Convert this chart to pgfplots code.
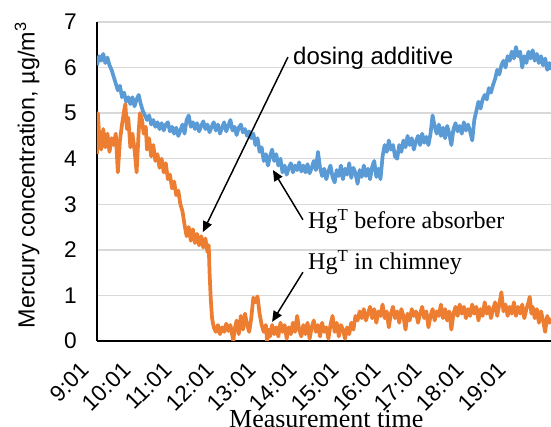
\documentclass[border=0pt]{standalone}
\usepackage{fontspec}
\setmainfont{Liberation Serif}
\setsansfont{Liberation Sans}
\usepackage{pgfplots}
\pgfplotsset{compat=1.18}
\usetikzlibrary{arrows.meta}

\definecolor{hgblue}{RGB}{91,155,213}
\definecolor{hgorange}{RGB}{237,125,49}
\definecolor{gridgray}{RGB}{217,217,217}

\begin{document}
\begin{tikzpicture}
  \begin{axis}[
      scale only axis,
      width=340.5pt, height=239.25pt,
      xmin=0, xmax=10.89,
      ymin=0, ymax=7,
      axis x line*=bottom,
      axis y line*=left,
      axis line style={-, line width=1.5pt, black},
      major tick length=0pt,
      xtick={0,1,2,3,4,5,6,7,8,9,10},
      xticklabels={9:01,10:01,11:01,12:01,13:01,14:01,15:01,16:01,17:01,18:01,19:01},
      ytick={0,1,2,3,4,5,6,7},
      ymajorgrids=true,
      grid style={gridgray, line width=1.1pt},
      ticklabel style={font=\sffamily\fontsize{17}{20}\selectfont},
      /pgf/number format/assume math mode=true,
      yticklabel style={inner sep=0pt, xshift=-15pt},
      xticklabel style={inner sep=0pt, xshift=-9pt, yshift=-19pt, rotate=45, anchor=east},
      xlabel={Measurement time},
      xlabel style={font=\rmfamily\fontsize{19.5}{22}\selectfont, at={(axis description cs:0.505,-0.270)}, anchor=base},
      ylabel={Mercury concentration, µg/m\textsuperscript{3}},
      ylabel style={font=\sffamily\fontsize{17.5}{20}\selectfont, at={(axis description cs:-0.154,0.52)}, anchor=center},
  ]

  % HgT before absorber
  \addplot[color=hgblue, line width=2.8pt, line join=round, no markers]
    coordinates {
      (0.00,6.05) (0.05,6.25) (0.10,6.15) (0.15,6.30) (0.20,6.10) (0.25,6.22)
      (0.30,6.05) (0.35,5.95) (0.40,5.80) (0.45,5.65) (0.50,5.50) (0.55,5.60)
      (0.60,5.35) (0.65,5.45) (0.70,5.25) (0.75,5.35) (0.80,5.20) (0.85,5.35)
      (0.90,5.15) (0.95,5.30) (1.00,5.40) (1.05,5.20) (1.10,5.05) (1.15,4.95)
      (1.20,4.85) (1.25,4.95) (1.30,4.75) (1.35,4.85) (1.40,4.70) (1.45,4.80)
      (1.50,4.65) (1.55,4.78) (1.60,4.62) (1.65,4.75) (1.70,4.80) (1.75,4.60)
      (1.80,4.70) (1.85,4.55) (1.90,4.68) (1.95,4.50) (2.00,4.62) (2.05,4.75)
      (2.10,4.55) (2.15,4.85) (2.20,4.95) (2.25,4.70) (2.30,4.80) (2.35,4.65)
      (2.40,4.78) (2.45,4.60) (2.50,4.72) (2.55,4.82) (2.60,4.65) (2.65,4.75)
      (2.70,4.58) (2.75,4.70) (2.80,4.80) (2.85,4.62) (2.90,4.75) (2.95,4.55)
      (3.00,4.68) (3.05,4.80) (3.10,4.60) (3.15,4.72) (3.20,4.85) (3.25,4.62)
      (3.30,4.70) (3.35,4.52) (3.40,4.68) (3.45,4.75) (3.50,4.58) (3.55,4.65)
      (3.60,4.50) (3.65,4.60) (3.70,4.45) (3.75,4.55) (3.80,4.30) (3.85,4.45)
      (3.90,4.15) (3.95,4.25) (4.00,3.95) (4.05,4.10) (4.10,3.85) (4.15,4.05)
      (4.20,4.20) (4.25,3.95) (4.30,4.10) (4.35,3.85) (4.40,4.00) (4.45,3.70)
      (4.50,3.85) (4.55,3.65) (4.60,3.80) (4.65,3.90) (4.70,3.70) (4.75,3.85)
      (4.80,3.75) (4.85,3.92) (4.90,3.72) (4.95,3.85) (5.00,3.70) (5.05,3.88)
      (5.10,3.68) (5.15,3.80) (5.20,3.95) (5.25,3.75) (5.30,4.15) (5.35,3.80)
      (5.40,3.62) (5.45,3.78) (5.50,3.55) (5.55,3.72) (5.60,3.85) (5.65,3.60)
      (5.70,3.48) (5.75,3.75) (5.80,3.62) (5.85,3.85) (5.90,3.55) (5.95,3.78)
      (6.00,3.65) (6.05,3.90) (6.10,3.58) (6.15,3.80) (6.20,3.68) (6.25,3.45)
      (6.30,3.75) (6.35,3.60) (6.40,3.85) (6.45,3.62) (6.50,3.78) (6.55,3.55)
      (6.60,3.82) (6.65,3.95) (6.70,3.60) (6.75,3.78) (6.80,3.55) (6.85,4.05)
      (6.90,4.30) (6.95,4.15) (7.00,4.40) (7.05,4.20) (7.10,4.30) (7.15,4.05)
      (7.20,4.00) (7.25,4.30) (7.30,4.15) (7.35,4.40) (7.40,4.25) (7.45,4.50)
      (7.50,4.30) (7.55,4.45) (7.60,4.20) (7.65,4.38) (7.70,4.50) (7.75,4.30)
      (7.80,4.55) (7.85,4.35) (7.90,4.48) (7.95,4.30) (8.00,4.55) (8.05,4.95)
      (8.10,4.70) (8.15,4.55) (8.20,4.75) (8.25,4.50) (8.30,4.68) (8.35,4.45)
      (8.40,4.72) (8.45,4.55) (8.50,4.30) (8.55,4.65) (8.60,4.78) (8.65,4.60)
      (8.70,4.72) (8.75,4.55) (8.80,4.80) (8.85,4.62) (8.90,4.75) (8.95,4.60)
      (9.00,4.40) (9.05,4.85) (9.10,5.05) (9.15,5.25) (9.20,5.10) (9.25,5.30)
      (9.30,5.40) (9.35,5.30) (9.40,5.55) (9.45,5.45) (9.50,5.62) (9.55,5.75)
      (9.60,5.95) (9.65,5.85) (9.70,6.05) (9.75,6.15) (9.80,6.00) (9.85,6.25)
      (9.90,6.15) (9.95,6.35) (10.00,6.20) (10.05,6.45) (10.10,6.25) (10.15,6.35)
      (10.20,6.00) (10.25,6.25) (10.30,6.10) (10.35,6.35) (10.40,6.20) (10.45,6.38)
      (10.50,6.15) (10.55,6.30) (10.60,6.10) (10.65,6.25) (10.70,6.05) (10.75,6.20)
      (10.80,5.95) (10.85,6.10) (10.90,5.95)
    };

  % HgT in chimney
  \addplot[color=hgorange, line width=2.8pt, line join=round, no markers]
    coordinates {
      (0.00,4.10) (0.02,5.00) (0.05,4.55) (0.10,4.20) (0.15,4.65) (0.20,4.25)
      (0.25,4.55) (0.30,4.15) (0.35,4.45) (0.40,4.30) (0.45,4.55) (0.50,3.70)
      (0.55,4.40) (0.60,4.75) (0.65,5.05) (0.68,5.20) (0.72,4.65) (0.75,4.90)
      (0.80,4.25) (0.85,4.55) (0.90,4.20) (0.95,3.70) (1.00,4.60) (1.03,5.00)
      (1.08,4.85) (1.12,4.55) (1.17,4.70) (1.20,4.20) (1.25,4.45) (1.30,4.05)
      (1.35,4.30) (1.40,3.95) (1.45,4.10) (1.50,3.80) (1.55,4.00) (1.60,3.70)
      (1.65,3.90) (1.70,3.55) (1.75,3.65) (1.80,3.35) (1.85,3.50) (1.90,3.20)
      (1.95,3.30) (2.00,3.00) (2.05,2.85) (2.10,2.55) (2.15,2.30) (2.20,2.50)
      (2.25,2.20) (2.30,2.45) (2.35,2.15) (2.40,2.35) (2.45,2.10) (2.50,2.30)
      (2.55,2.05) (2.60,2.25) (2.65,1.95) (2.68,2.10) (2.70,1.50) (2.73,0.90)
      (2.76,0.50) (2.80,0.30) (2.85,0.20) (2.90,0.35) (2.95,0.15) (3.00,0.30)
      (3.05,0.20) (3.10,0.38) (3.15,0.22) (3.20,0.35) (3.25,0.10) (3.27,0.00)
      (3.30,0.25) (3.35,0.45) (3.40,0.15) (3.45,0.55) (3.50,0.25) (3.55,0.60)
      (3.60,0.35) (3.65,0.20) (3.70,0.50) (3.75,0.95) (3.80,0.85) (3.85,0.98)
      (3.90,0.60) (3.95,0.35) (4.00,0.20) (4.05,0.35) (4.08,0.00) (4.12,0.25)
      (4.15,0.10) (4.20,0.35) (4.25,0.15) (4.30,0.30) (4.35,0.10) (4.40,0.40)
      (4.45,0.20) (4.50,0.35) (4.55,0.05) (4.60,0.30) (4.65,0.15) (4.70,0.40)
      (4.75,0.20) (4.80,0.55) (4.85,0.25) (4.90,0.10) (4.95,0.35) (5.00,0.15)
      (5.05,0.40) (5.10,0.05) (5.15,0.30) (5.20,0.45) (5.25,0.20) (5.30,0.35)
      (5.35,0.10) (5.40,0.40) (5.45,0.20) (5.50,0.30) (5.55,0.05) (5.60,0.35)
      (5.65,0.55) (5.70,0.20) (5.75,0.40) (5.80,0.10) (5.85,0.35) (5.90,0.25)
      (5.95,0.05) (6.00,0.30) (6.05,0.15) (6.10,0.40) (6.15,0.25) (6.20,0.55)
      (6.25,0.45) (6.30,0.65) (6.35,0.50) (6.40,0.70) (6.45,0.45) (6.50,0.60)
      (6.55,0.75) (6.60,0.50) (6.65,0.70) (6.70,0.40) (6.75,0.65) (6.80,0.55)
      (6.85,0.80) (6.90,0.50) (6.95,0.65) (7.00,0.30) (7.05,0.60) (7.10,0.75)
      (7.15,0.50) (7.20,0.65) (7.25,0.40) (7.30,0.70) (7.35,0.55) (7.40,0.25)
      (7.45,0.60) (7.50,0.45) (7.55,0.70) (7.60,0.55) (7.65,0.65) (7.70,0.40)
      (7.75,0.60) (7.80,0.75) (7.85,0.50) (7.90,0.65) (7.95,0.30) (8.00,0.55)
      (8.05,0.70) (8.10,0.45) (8.15,0.65) (8.20,0.55) (8.25,0.80) (8.30,0.50)
      (8.35,0.70) (8.40,0.45) (8.45,0.65) (8.50,0.25) (8.55,0.60) (8.60,0.75)
      (8.65,0.55) (8.70,0.80) (8.75,0.60) (8.80,0.75) (8.85,0.50) (8.90,0.70)
      (8.95,0.55) (9.00,0.80) (9.05,0.60) (9.10,0.75) (9.15,0.45) (9.20,0.70)
      (9.25,0.55) (9.30,0.85) (9.35,0.60) (9.40,0.75) (9.45,0.50) (9.50,0.70)
      (9.55,0.85) (9.60,0.55) (9.65,0.80) (9.70,1.07) (9.75,0.65) (9.80,0.80)
      (9.85,0.55) (9.90,0.75) (9.95,0.60) (10.00,0.85) (10.05,0.55) (10.10,0.75)
      (10.15,0.60) (10.20,0.80) (10.25,0.50) (10.30,0.70) (10.35,0.85) (10.38,0.97)
      (10.42,0.60) (10.45,0.75) (10.50,0.50) (10.55,0.70) (10.60,0.40) (10.65,0.65)
      (10.70,0.45) (10.75,0.20) (10.80,0.55) (10.85,0.40) (10.90,0.50)
    };

  % annotations
  \draw[line width=1.1pt, -{Triangle[length=8pt,width=7pt]}]
    (axis cs:4.58,6.23) -- (axis cs:2.54,2.39);
  \node[anchor=base west, inner sep=0pt, font=\sffamily\fontsize{18}{20}\selectfont]
    at (axis cs:4.70,6.06) {dosing additive};
  \draw[line width=1.1pt, -{Triangle[length=8pt,width=7pt]}]
    (axis cs:4.94,2.66) -- (axis cs:4.22,3.75);
  \node[anchor=base west, inner sep=0pt, font=\rmfamily\fontsize{18}{20}\selectfont]
    at (axis cs:5.06,2.46) {Hg\textsuperscript{T} before absorber};
  \draw[line width=1.1pt, -{Triangle[length=8pt,width=7pt]}]
    (axis cs:4.94,1.51) -- (axis cs:4.20,0.42);
  \node[anchor=base west, inner sep=0pt, font=\rmfamily\fontsize{18}{20}\selectfont]
    at (axis cs:5.06,1.56) {Hg\textsuperscript{T} in chimney};
  \end{axis}
  \pgfresetboundingbox
  \useasboundingbox ([xshift=-72.75pt,yshift=-64.5pt]current axis.south west)
    rectangle ([yshift=16.5pt]current axis.north east);
\end{tikzpicture}
\end{document}
